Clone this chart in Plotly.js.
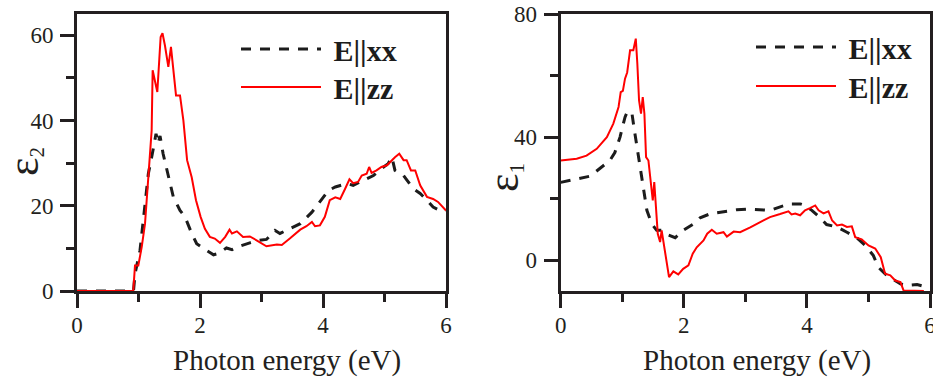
<!DOCTYPE html>
<html>
<head>
<meta charset="utf-8">
<script src="https://cdn.plot.ly/plotly-3.0.1.min.js"></script>
<style>
  html, body { margin: 0; padding: 0; background: #fff; }
  #chart { width: 933px; height: 377px; }
</style>
</head>
<body>
<div id="chart"></div>
<script>
// ---- Data ----
// Left panel: epsilon_2 (imaginary part)
const eps2_energy_xx = [0, 0.5, 0.9, 0.92, 0.943, 1.024, 1.09, 1.16, 1.23, 1.285, 1.32, 1.35, 1.40, 1.485, 1.566, 1.675, 1.756, 1.865, 1.946, 2.11, 2.22, 2.30, 2.43, 2.52, 2.60, 2.81, 2.95, 3.08, 3.17, 3.22, 3.30, 3.52, 3.63, 3.82, 3.92, 4.09, 4.20, 4.39, 4.49, 4.66, 4.82, 4.95, 5.06, 5.12, 5.17, 5.25, 5.31, 5.47, 5.58, 5.69, 5.79, 5.90, 6.0];
const eps2_xx = [0, 0, 0, 0.2, 4, 9.5, 18.2, 27.5, 32.6, 36.9, 34.6, 36.4, 32.2, 26.7, 22.1, 18.9, 17.4, 13.5, 11.1, 9.5, 8.5, 8.8, 10.1, 9.7, 10.3, 11.3, 11.9, 12.1, 13.5, 14.2, 13.5, 15, 15.8, 18.5, 20.5, 23.6, 24.4, 25.2, 24.8, 26, 27.1, 28.7, 29.9, 31.4, 28.3, 27.5, 27.1, 24, 22.9, 21.3, 19.7, 18.9, 18.9];

const eps2_energy_zz = [0, 0.5, 0.9, 0.916, 0.943, 0.997, 1.052, 1.106, 1.16, 1.214, 1.23, 1.306, 1.36, 1.39, 1.43, 1.485, 1.528, 1.566, 1.61, 1.675, 1.73, 1.79, 1.865, 1.935, 2.01, 2.08, 2.16, 2.24, 2.325, 2.41, 2.48, 2.52, 2.6, 2.70, 2.81, 2.92, 3.08, 3.25, 3.33, 3.46, 3.63, 3.73, 3.82, 3.87, 3.95, 4.03, 4.11, 4.20, 4.28, 4.36, 4.43, 4.49, 4.57, 4.63, 4.71, 4.75, 4.79, 4.87, 4.95, 5.04, 5.12, 5.17, 5.24, 5.31, 5.36, 5.43, 5.50, 5.58, 5.69, 5.79, 5.87, 6.0];
const eps2_zz = [0, 0, 0, 0.2, 6.0, 6.0, 10.3, 15.8, 26, 37.7, 51.8, 46.7, 59.6, 60.5, 57.6, 52.6, 57.3, 52.6, 45.9, 45.9, 40, 30.7, 26.7, 21.3, 17.4, 14.6, 12.7, 12.3, 11.3, 12.7, 14.4, 13.5, 14, 12.7, 12.8, 11.9, 10.5, 10.9, 10.8, 12.3, 14.4, 15.2, 16.2, 15.2, 15.4, 17.4, 21.3, 22, 21.6, 24, 26.2, 25.3, 25.6, 27.1, 27.5, 29.1, 27.7, 28.3, 29.1, 29.5, 30.8, 31.4, 32.2, 30.7, 30.7, 28.3, 28.3, 24.8, 22.1, 21.6, 20.9, 18.9];

// Right panel: epsilon_1 (real part)
const eps1_energy_xx = [0, 0.476, 0.80, 0.88, 0.964, 1.045, 1.08, 1.155, 1.19, 1.26, 1.34, 1.40, 1.48, 1.56, 1.64, 1.70, 1.86, 1.99, 2.16, 2.265, 2.43, 2.59, 2.86, 3.05, 3.24, 3.40, 3.59, 3.73, 3.89, 3.97, 4.08, 4.215, 4.32, 4.49, 4.65, 4.81, 4.95, 5.08, 5.16, 5.30, 5.41, 5.52, 5.625, 5.79, 5.92];
const eps1_xx = [25.3, 27.3, 32.4, 35, 40, 46.5, 48.1, 48.1, 43.2, 34.6, 23.7, 16.2, 11.8, 9.7, 9.7, 8.6, 7.3, 9.7, 11.8, 13.8, 15.1, 15.6, 16.4, 16.6, 16.5, 16.2, 17.5, 18.3, 18.3, 17.8, 16.2, 13.8, 11.6, 10.8, 9.1, 7.3, 4.8, 1.5, -2.3, -5.0, -6.3, -7.7, -8.2, -7.9, -8.6];

const eps1_energy_zz = [0, 0.1, 0.26, 0.42, 0.585, 0.75, 0.855, 0.94, 0.975, 1.01, 1.045, 1.08, 1.127, 1.18, 1.22, 1.245, 1.273, 1.305, 1.333, 1.36, 1.387, 1.425, 1.496, 1.52, 1.545, 1.577, 1.615, 1.64, 1.70, 1.76, 1.83, 1.91, 1.99, 2.075, 2.145, 2.21, 2.32, 2.38, 2.455, 2.535, 2.645, 2.70, 2.81, 2.915, 3.08, 3.24, 3.40, 3.565, 3.70, 3.75, 3.81, 3.89, 3.97, 4.05, 4.135, 4.19, 4.27, 4.35, 4.41, 4.49, 4.57, 4.65, 4.73, 4.785, 4.89, 5.0, 5.11, 5.20, 5.27, 5.355, 5.435, 5.52, 5.57, 5.74, 5.9];
const eps1_zz = [32.4, 32.6, 33, 34, 36.2, 40, 44.4, 49.8, 54.6, 55, 59, 61, 68.2, 68.2, 72, 63.9, 51.9, 47.6, 53, 47.6, 33.5, 32.4, 19.4, 25.4, 16.2, 8.6, 5.9, 9.7, 2.1, -5.5, -3.6, -4.6, -2.8, -1.7, 2.1, 4.2, 6.4, 8.6, 9.9, 8.6, 9.1, 7.7, 9.3, 9.1, 10.7, 12.4, 14, 15, 15.9, 14.9, 15.2, 14.6, 16.2, 16.9, 17.8, 16.2, 15.2, 15.9, 12.9, 11.3, 11.6, 10.8, 11, 7.5, 6.8, 4.8, 3.8, 1.0, -4.4, -4.9, -6.6, -7.1, -9.8, -9.9, -10];

const seriesNames = ['\u00a0E||xx', '\u00a0E||zz'];
const xTitle = 'Photon energy (eV)';

// ---- Styling ----
const AX = '#231f20';
const BLACK = '#1c1c1c';
const RED = '#ff0000';
const FONT = 'Liberation Serif, Times New Roman, serif';

const traces = [
  {x: eps2_energy_xx, y: eps2_xx, name: seriesNames[0], xaxis: 'x', yaxis: 'y', legend: 'legend',
   mode: 'lines', line: {color: BLACK, width: 3, dash: '10px,9px'}},
  {x: eps2_energy_zz, y: eps2_zz, name: seriesNames[1], xaxis: 'x', yaxis: 'y', legend: 'legend2',
   mode: 'lines', line: {color: RED, width: 2}},
  {x: eps1_energy_xx, y: eps1_xx, name: seriesNames[0], xaxis: 'x2', yaxis: 'y2', legend: 'legend3',
   mode: 'lines', line: {color: BLACK, width: 3, dash: '10px,9px'}},
  {x: eps1_energy_zz, y: eps1_zz, name: seriesNames[1], xaxis: 'x2', yaxis: 'y2', legend: 'legend4',
   mode: 'lines', line: {color: RED, width: 2}}
];

const common = {
  showline: true, linecolor: AX, linewidth: 3, mirror: true,
  ticks: 'outside', ticklen: 14, tickwidth: 3, tickcolor: AX,
  showgrid: false, zeroline: false,
  tickfont: {family: FONT, size: 23, color: AX},
  ticklabeloverflow: 'allow',
  fixedrange: true
};
const minorCommon = {ticks: 'outside', ticklen: 8, tickwidth: 3, tickcolor: AX, showgrid: false};

const W = 933, H = 377, T = 14, B = 86;
const plotH = H - T - B;
function py(p) { return (H - B - p) / plotH; }

const legendCommon = {
  xanchor: 'left', yanchor: 'middle', bgcolor: 'rgba(0,0,0,0)', borderwidth: 0,
  font: {family: FONT, size: 30, color: BLACK, weight: 'bold'},
  itemwidth: 80, tracegroupgap: 0
};

const layout = {
  width: W, height: H,
  margin: {l: 0, r: 0, t: T, b: B, pad: 0},
  paper_bgcolor: '#fff', plot_bgcolor: '#fff',
  font: {family: FONT, color: AX},
  showlegend: true,
  xaxis: Object.assign({}, common, {domain: [77 / W, 446 / W], range: [0, 6], tick0: 0, dtick: 2, anchor: 'y',
    ticklabelstandoff: -3,
    minor: Object.assign({}, minorCommon, {tick0: 0, dtick: 1})}),
  yaxis: Object.assign({}, common, {domain: [0, 1], range: [0, 65], tick0: 0, dtick: 20, anchor: 'x',
    ticklabelstandoff: 2,
    minor: Object.assign({}, minorCommon, {tick0: 0, dtick: 10})}),
  xaxis2: Object.assign({}, common, {domain: [560.7 / W, 930 / W], range: [0, 6], tick0: 0, dtick: 2, anchor: 'y2',
    ticklabelstandoff: -3,
    minor: Object.assign({}, minorCommon, {tick0: 0, dtick: 1})}),
  yaxis2: Object.assign({}, common, {domain: [0, 1], range: [-10, 80], tick0: 0, dtick: 40, anchor: 'x2',
    ticklabelstandoff: 2,
    minor: Object.assign({}, minorCommon, {tick0: 0, dtick: 20})}),
  legend: Object.assign({}, legendCommon, {x: 236 / W, y: py(49)}),
  legend2: Object.assign({}, legendCommon, {x: 236 / W, y: py(87)}),
  legend3: Object.assign({}, legendCommon, {x: 751 / W, y: py(47)}),
  legend4: Object.assign({}, legendCommon, {x: 751 / W, y: py(86)}),
  annotations: [
    {text: xTitle, xref: 'paper', yref: 'paper', x: 287 / W, y: py(360), xanchor: 'center', yanchor: 'middle',
     showarrow: false, font: {family: FONT, size: 29, color: AX}},
    {text: xTitle, xref: 'paper', yref: 'paper', x: 757 / W, y: py(360), xanchor: 'center', yanchor: 'middle',
     showarrow: false, font: {family: FONT, size: 29, color: AX}},
    {text: '<span style="font-size:44px">ε</span><sub>2</sub>', xref: 'paper', yref: 'paper',
     x: 24 / W, y: py(162), xanchor: 'center', yanchor: 'middle', textangle: -90,
     showarrow: false, font: {family: FONT, size: 30, color: AX}},
    {text: '<span style="font-size:44px">ε</span><sub>1</sub>', xref: 'paper', yref: 'paper',
     x: 504 / W, y: py(178), xanchor: 'center', yanchor: 'middle', textangle: -90,
     showarrow: false, font: {family: FONT, size: 30, color: AX}}
  ]
};

Plotly.newPlot('chart', traces, layout, {displayModeBar: false, staticPlot: true});
</script>
</body>
</html>
